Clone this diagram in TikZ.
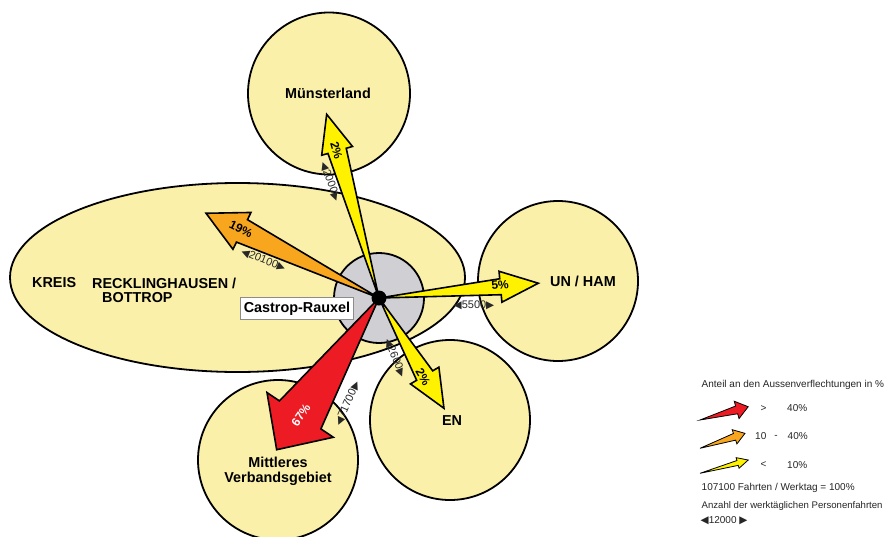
\documentclass[tikz,border=0pt]{standalone}
\usepackage{fontspec}
\setmainfont{Liberation Sans}
\newfontfamily\symf{DejaVu Sans}
\definecolor{regionfill}{RGB}{250,240,170}
\definecolor{cityfill}{RGB}{208,208,212}
\definecolor{arryellow}{RGB}{255,242,0}
\definecolor{arrorange}{RGB}{247,166,30}
\definecolor{arrred}{RGB}{237,28,36}
\definecolor{numgray}{RGB}{40,40,40}
% #1 start coordinate, #2 angle, #3 length, #4 head length, #5 head half width, #6 shaft half width, #7 fill, #8 line width
\newcommand\tarrow[8]{%
  \begin{scope}[shift={(#1)},rotate=#2]
    \filldraw[fill=#7,draw=black,line width=#8,line join=miter,miter limit=10]
      (0,0) -- ({#3-#4},#6) -- ({#3-#4},#5) -- (#3,0) -- ({#3-#4},-#5) -- ({#3-#4},-#6) -- cycle;
  \end{scope}}
\newcommand\ltri{{\symf\fontsize{10.5}{10}\selectfont ◀}}
\newcommand\rtri{{\symf\fontsize{10.5}{10}\selectfont ▶}}
\begin{document}
\begin{tikzpicture}[x=1pt,y=1pt,
  region/.style={fill=regionfill,draw=black,line width=1.8pt},
  regionlabel/.style={font=\bfseries\fontsize{14.4}{15.5}\selectfont,align=center,inner sep=0pt},
  pctlabel/.style={font=\bfseries\fontsize{12}{12}\selectfont,inner sep=0pt},
  countlabel/.style={font=\fontsize{11}{11}\selectfont,text=numgray,inner sep=0pt},
  legendtext/.style={font=\fontsize{10}{10}\selectfont,text=black!85,inner sep=0pt,anchor=west},
  citybox/.style={draw=black!45,line width=0.6pt,fill=white,font=\bfseries\fontsize{14.4}{15}\selectfont,inner xsep=3.5pt,inner ysep=0pt,minimum height=22pt}
]
\useasboundingbox (0,0) rectangle (887,-536);
\clip (0,0) rectangle (887,-536);
\fill[white] (0,0) rectangle (887,-536);

% regions
\draw[region] (237.5,-277.5) ellipse [x radius=227.5, y radius=94.5];
\draw[region] (329,-93.5) circle [radius=81];
\draw[region] (558,-281) circle [radius=80];
\draw[region] (450,-420) circle [radius=80];
\draw[region] (278,-460) circle [radius=80];

% city
\coordinate (c) at (379,-298);
\draw[fill=cityfill,draw=black,line width=1.8pt] (c) circle [radius=45];

% arrows
\tarrow{c}{153.9}{192.6}{40}{20.5}{12.5}{arrorange}{1.6pt}
\tarrow{c}{105.9}{191}{38}{16}{9.5}{arryellow}{1.6pt}
\tarrow{c}{5.3}{160}{38}{15.5}{8}{arryellow}{1.6pt}
\tarrow{c}{-59.5}{128}{38}{16.5}{9.3}{arryellow}{1.6pt}
\tarrow{c}{-124}{183}{42}{40}{25}{arrred}{1.6pt}
\fill[black] (c) circle [radius=7.5];

% percentage labels
\node[pctlabel,rotate=-74] (p1) at (336.5,-150.5) {2\%};
\node[pctlabel,rotate=-26] (p2) at (241,-229.5) {19\%};
\node[pctlabel,rotate=5.3] (p3) at (500,-285) {5\%};
\node[pctlabel,rotate=-59.5] (p4) at (423,-377) {2\%};
\node[pctlabel,rotate=56,text=white] (p5) at (301,-415) {67\%};

% count labels
\node[countlabel,rotate=-70] (n1) at (330,-181.5) {\ltri 2000\rtri};
\node[countlabel,rotate=-22] (n2) at (263.5,-260) {\ltri 20100\rtri};
\node[countlabel] (n3) at (474,-305.5) {\ltri 5500\rtri};
\node[countlabel,rotate=-68] (n4) at (395,-358) {\ltri 2600\rtri};
\node[countlabel,rotate=66] (n5) at (347.5,-403.5) {\ltri 71700\rtri};

% region labels
\node[regionlabel] (muenster) at (328,-93) {Münsterland};
\node[regionlabel] (unham) at (583,-281) {UN / HAM};
\node[regionlabel] (en) at (452,-421) {EN};
\node[regionlabel] (mvg) at (278,-471.5) {Mittleres\\Verbandsgebiet};
\node[regionlabel,anchor=west] (kreis) at (32,-283) {KREIS};
\node[regionlabel,anchor=west] (reck) at (92,-283) {RECKLINGHAUSEN /};
\node[regionlabel,anchor=west] (bott) at (102,-297.5) {BOTTROP};
\node[citybox] (cr) at (297,-308.3) {Castrop-Rauxel};

% legend
\node[legendtext] (lt) at (701.5,-385) {Anteil an den Aussenverflechtungen in \%};
\coordinate (lr) at (700,-420);
\coordinate (lo) at (700,-448.3);
\coordinate (ly) at (700,-473.3);
\tarrow{lr}{15.4}{50}{12}{9}{4}{arrred}{0.8pt}
\tarrow{lo}{18.4}{47.4}{11}{7.5}{3.5}{arrorange}{0.8pt}
\tarrow{ly}{15.4}{50}{11}{5.5}{2.5}{arryellow}{0.8pt}
\node[legendtext,anchor=center] (g1) at (763.5,-408.5) {>};
\node[legendtext] (g1b) at (787,-408.5) {40\%};
\node[legendtext] (g2) at (755,-436.5) {10};
\node[legendtext,anchor=center] (g2m) at (776,-436.5) {-};
\node[legendtext] (g2b) at (787.5,-436.5) {40\%};
\node[legendtext,anchor=center] (g3) at (763.5,-465) {<};
\node[legendtext] (g3b) at (787,-465) {10\%};
\node[legendtext] (tot) at (701.5,-487.5) {107100 Fahrten / Werktag = 100\%};
\node[legendtext,font=\fontsize{9.6}{10}\selectfont] (anz) at (701.5,-506.5) {Anzahl der werktäglichen Personenfahrten};
\node[legendtext] (sc) at (700.5,-521) {\ltri 12000 \rtri};
\end{tikzpicture}
\end{document}
